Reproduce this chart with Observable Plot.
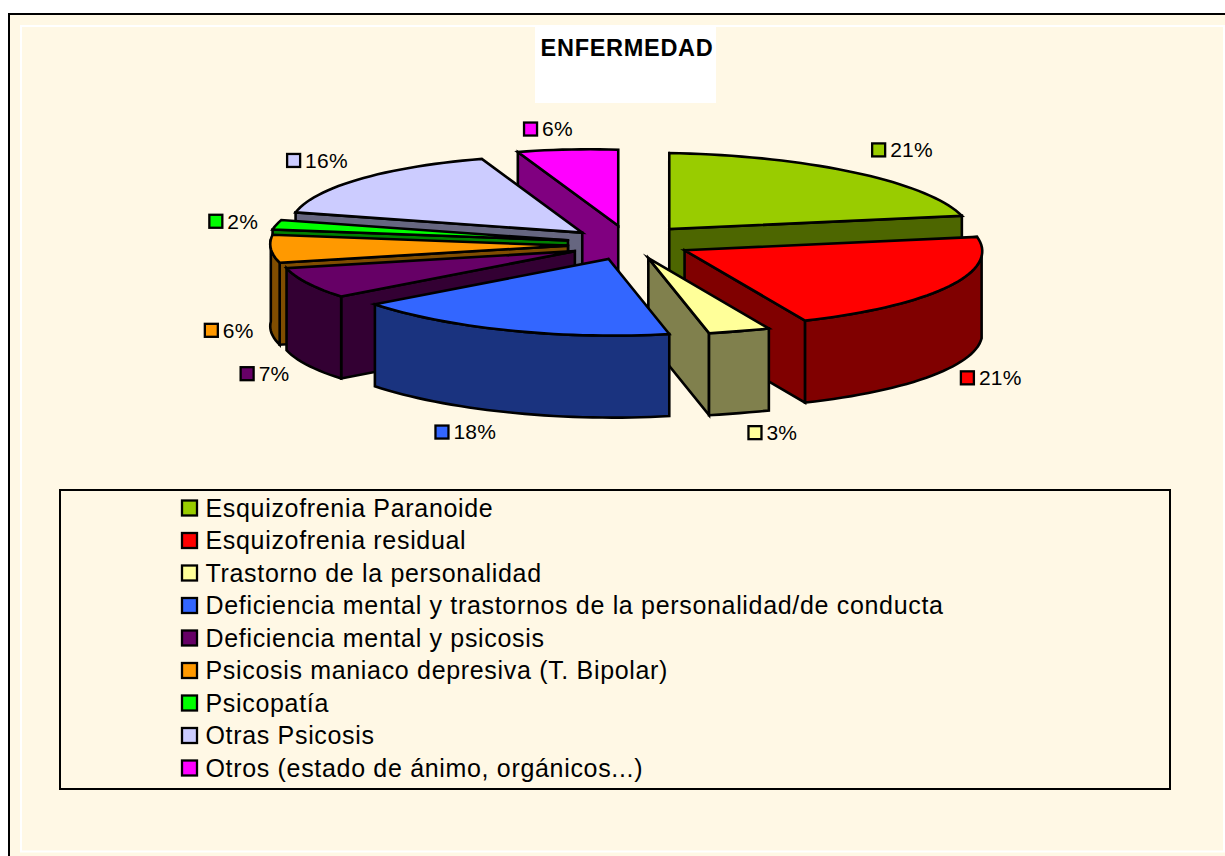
<!DOCTYPE html>
<html>
<head>
<meta charset="utf-8">
<script src="https://cdn.jsdelivr.net/npm/d3@7"></script>
<script src="https://cdn.jsdelivr.net/npm/@observablehq/plot@0.6"></script>
<style>html,body{margin:0;padding:0;background:#fff}svg{display:block}</style>
</head>
<body>
<div id="chart"></div>
<script>
// ---- data ----
const categories = ["Esquizofrenia Paranoide","Esquizofrenia residual","Trastorno de la personalidad","Deficiencia mental y trastornos de la personalidad/de conducta","Deficiencia mental y psicosis","Psicosis maniaco depresiva (T. Bipolar)","Psicopatía","Otras Psicosis","Otros (estado de ánimo, orgánicos...)"];
const percents = [21,21,3,18,7,6,2,16,6];
const topColors = ["#99CC00","#FF0000","#FFFF99","#3366FF","#660066","#FF9900","#00FF00","#CCCCFF","#FF00FF"];
const wallColors = ["#4D6600","#800000","#80804D","#1A337F","#330033","#804D00","#008000","#666680","#800080"];
const title = "ENFERMEDAD";

// ---- projection of the tilted, exploded pie ----
const center = {x:627, y:242}, radius = {x:300, y:77}, explode = {x:60, y:17}, depth = 82, tiltY = 6;
const apexNudgeX = [5,2,-3,-4,-1,0,0,1,2];
const apexNudgeY = [0,1,0,0,0,1,0,1,0];
const rimShiftX = [0,2,-24,-32,-15,-3,4,8,10,0]; // perspective shift at each slice boundary
const rimShiftY = [1,0,0,0,-3,-1,0,0,0,1];
const labelOffsetX = [25,19,16,-68,-60,-59,-60,-66,-36];
const labelOffsetY = [-22,92,102,102,91,82,-3,-18,-20];
const paintOrder = [0,8,7,6,5,4,1,2,3];

const rad = d => d * Math.PI / 180;
const total = d3.sum(percents);
const bounds = [0, ...d3.cumsum(percents).map(c => c / total * 360)];
const shift = d3.scaleLinear().domain(bounds).range(rimShiftX);
const shiftY = d3.scaleLinear().domain(bounds).range(rimShiftY);
const apex = i => {
  const m = rad((bounds[i] + bounds[i+1]) / 2);
  return {x: center.x + explode.x * Math.sin(m) + apexNudgeX[i],
          y: center.y - explode.y * Math.cos(m) + apexNudgeY[i]};
};
const rim = (i, t) => {
  const a = apex(i), r = rad(t);
  return {x: a.x + radius.x * Math.sin(r) + shift(t),
          y: a.y - radius.y * Math.cos(r) + tiltY * Math.sin(r) + shiftY(t)};
};
const arc = (i, t0, t1) => {
  const n = Math.max(2, Math.ceil((t1 - t0) / 2));
  return d3.range(n + 1).map(k => rim(i, t0 + (t1 - t0) * k / n));
};
const down = p => ({x: p.x, y: p.y + depth});
const close = pts => [...pts, pts[0], pts[1]];

// ---- marks ----
const poly = (pts, fill, sw = 2.6) => Plot.line(close(pts), {
  x: "x", y: "y", fill, stroke: "#000", strokeWidth: sw,
  strokeLinejoin: "miter", strokeMiterlimit: 6
});
const slices = paintOrder.flatMap(i => {
  const t0 = bounds[i], t1 = bounds[i+1], a = apex(i), out = [];
  const wall = t => { const p = rim(i, t); return [a, p, down(p), down(a)]; };
  if (Math.sin(rad(t1)) > 0.001) out.push(poly(wall(t1), wallColors[i]));
  if (Math.sin(rad(t0)) < -0.001) out.push(poly(wall(t0), wallColors[i]));
  const v0 = Math.max(t0, 90), v1 = Math.min(t1, 270);
  if (v1 > v0) {
    const edge = arc(i, v0, v1);
    out.push(poly([...edge, ...edge.slice().reverse().map(down)], wallColors[i]));
  }
  out.push(poly([a, ...arc(i, t0, t1)], topColors[i]));
  return out;
});

const idx = d3.range(categories.length);
const labelPos = idx.map(i => {
  const p = rim(i, (bounds[i] + bounds[i+1]) / 2);
  return {x: p.x + labelOffsetX[i], y: p.y + labelOffsetY[i]};
});
const labelRows = idx.map(i => ({...labelPos[i], text: percents[i] + "%", fill: topColors[i]}));
const legendRows = idx.map(i => ({x: 189.5, y: 508 + i * 32.5, text: categories[i], fill: topColors[i]}));
const swatch = (rows, s, sw) => Plot.rect(rows, {
  x1: d => d.x - s, x2: d => d.x + s, y1: d => d.y - s, y2: d => d.y + s,
  fill: d => d.fill, stroke: "#000", strokeWidth: sw
});

const cream = "#FFF8E5";
const chart = Plot.plot({
  width: 1225, height: 856, margin: 0,
  x: {domain: [0,1225], range: [0,1225], axis: null},
  y: {domain: [0,856], range: [0,856], axis: null},
  color: {type: "identity"},
  style: {background: "#fff", fontFamily: "'Liberation Sans', Arial, sans-serif"},
  marks: [
    Plot.rect([0], {x1: 9, x2: 1240, y1: 14, y2: 870, fill: cream, stroke: "#000", strokeWidth: 2}),
    Plot.rect([0], {x1: 21, x2: 1224, y1: 26, y2: 851.5, fill: cream, stroke: "#fff", strokeWidth: 2}),
    Plot.rect([0], {x1: 535, x2: 716, y1: 27, y2: 103, fill: "#fff"}),
    Plot.text([title], {x: () => 626.5, y: () => 48, text: d => d, fontSize: 23.5, fontWeight: "bold", fill: "#000", className: "ttl"}),
    ...slices,
    swatch(labelRows, 6.5, 2.3),
    Plot.text(labelRows, {x: d => d.x + 11, y: "y", text: "text", textAnchor: "start", fontSize: 21, fill: "#000", className: "lbl"}),
    Plot.rect([0], {x1: 60, x2: 1170, y1: 490, y2: 789, fill: "none", stroke: "#000", strokeWidth: 2}),
    swatch(legendRows, 7.5, 2.3),
    Plot.text(legendRows, {x: d => 205, y: "y", text: "text", textAnchor: "start", fontSize: 25, fill: "#000", className: "leg"})
  ]
});
d3.select(chart).selectAll(".ttl text").style("letter-spacing", "0.03em");
d3.select(chart).selectAll(".lbl text").style("letter-spacing", "0.01em");
d3.select(chart).selectAll(".leg text").style("letter-spacing", "0.027em");
document.getElementById("chart").append(chart);
</script>
</body>
</html>
